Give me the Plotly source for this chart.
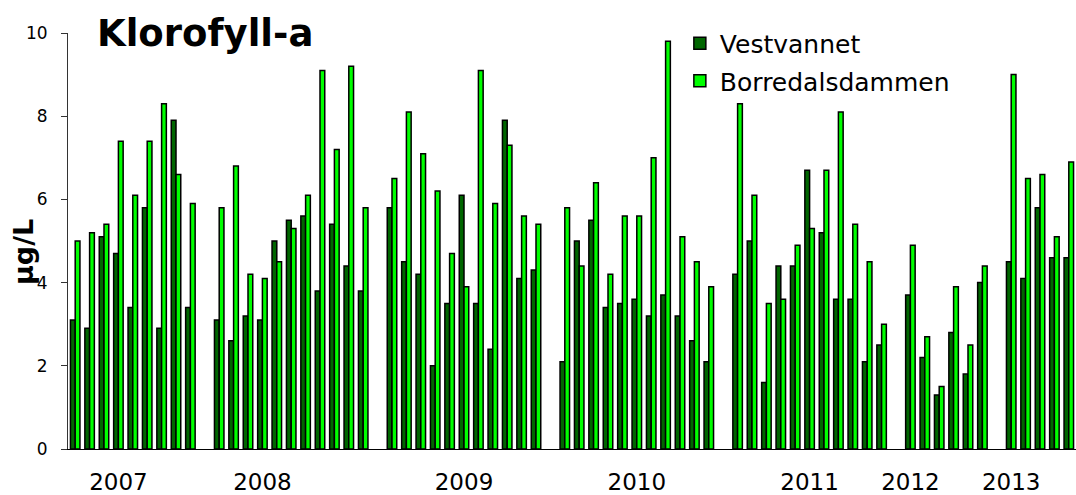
import plotly.graph_objects as go

# Klorofyll-a, sample by sample (None = gap between years)
vestvannet = [
    3.1, 2.9, 5.1, 4.7, 3.4, 5.8, 2.9, 7.9, 3.4, None,
    3.1, 2.6, 3.2, 3.1, 5.0, 5.5, 5.6, 3.8, 5.4, 4.4, 3.8, None,
    5.8, 4.5, 4.2, 2.0, 3.5, 6.1, 3.5, 2.4, 7.9, 4.1, 4.3, None,
    2.1, 5.0, 5.5, 3.4, 3.5, 3.6, 3.2, 3.7, 3.2, 2.6, 2.1, None,
    4.2, 5.0, 1.6, 4.4, 4.4, 6.7, 5.2, 3.6, 3.6, 2.1, 2.5, None,
    3.7, 2.2, 1.3, 2.8, 1.8, 4.0, None,
    4.5, 4.1, 5.8, 4.6, 4.6,
]
borredalsdammen = [
    5.0, 5.2, 5.4, 7.4, 6.1, 7.4, 8.3, 6.6, 5.9, None,
    5.8, 6.8, 4.2, 4.1, 4.5, 5.3, 6.1, 9.1, 7.2, 9.2, 5.8, None,
    6.5, 8.1, 7.1, 6.2, 4.7, 3.9, 9.1, 5.9, 7.3, 5.6, 5.4, None,
    5.8, 4.4, 6.4, 4.2, 5.6, 5.6, 7.0, 9.8, 5.1, 4.5, 3.9, None,
    8.3, 6.1, 3.5, 3.6, 4.9, 5.3, 6.7, 8.1, 5.4, 4.5, 3.0, None,
    4.9, 2.7, 1.5, 3.9, 2.5, 4.4, None,
    9.0, 6.5, 6.6, 5.1, 6.9,
]
year_ticks = [3, 13, 27, 39, 51, 58, 65]
year_labels = ["2007", "2008", "2009", "2010", "2011", "2012", "2013"]

samples = list(range(len(vestvannet)))
FONT = "DejaVu Sans, Verdana, sans-serif"

fig = go.Figure()
fig.add_trace(go.Bar(
    x=samples, y=vestvannet, name="Vestvannet", legendgroup="v",
    marker=dict(color="#006600", line=dict(color="black", width=1.5)),
))
fig.add_trace(go.Bar(
    x=samples, y=borredalsdammen, name="Borredalsdammen", legendgroup="b",
    marker=dict(color="#00ff00", line=dict(color="black", width=1.5)),
))

fig.update_layout(
    template="none",
    width=1076, height=495,
    margin=dict(l=68, r=0, t=33, b=46),
    paper_bgcolor="white", plot_bgcolor="white",
    font=dict(family=FONT, color="black"),
    barmode="group", bargap=0.34, bargroupgap=0,
    legend=dict(
        x=0.607, y=1.03, xanchor="left", yanchor="top",
        font=dict(size=25), bgcolor="rgba(0,0,0,0)",
        tracegroupgap=2, itemwidth=30, traceorder="grouped",
    ),
    showlegend=True,
)
fig.update_xaxes(
    range=[-0.5, 69.5], tickmode="array", tickvals=year_ticks, ticktext=year_labels,
    showline=True, linecolor="black", linewidth=1, ticks="", showgrid=False,
    zeroline=False, tickfont=dict(size=23), ticklabelstandoff=12, automargin=False,
)
fig.update_yaxes(
    range=[0, 10], dtick=2, tick0=0, showline=True, linecolor="#333", linewidth=1,
    ticks="outside", ticklen=6, tickcolor="#333", showgrid=False, zeroline=False,
    tickfont=dict(size=17), ticklabelstandoff=10, automargin=False,
)

fig.add_annotation(
    text="<b>Klorofyll-a</b>", xref="paper", yref="paper",
    x=(95 - 68) / 1008, y=1.0, xanchor="left", yanchor="middle",
    showarrow=False, font=dict(size=37),
)
fig.add_annotation(
    text="<b>µg/L</b>", xref="paper", yref="paper",
    x=(23 - 68) / 1008, y=(449 - 252) / 416, xanchor="center", yanchor="middle",
    textangle=-90, showarrow=False, font=dict(size=27),
)

fig.write_html("out.html", config={"displayModeBar": False},
               post_script="document.body.style.margin='0';")
